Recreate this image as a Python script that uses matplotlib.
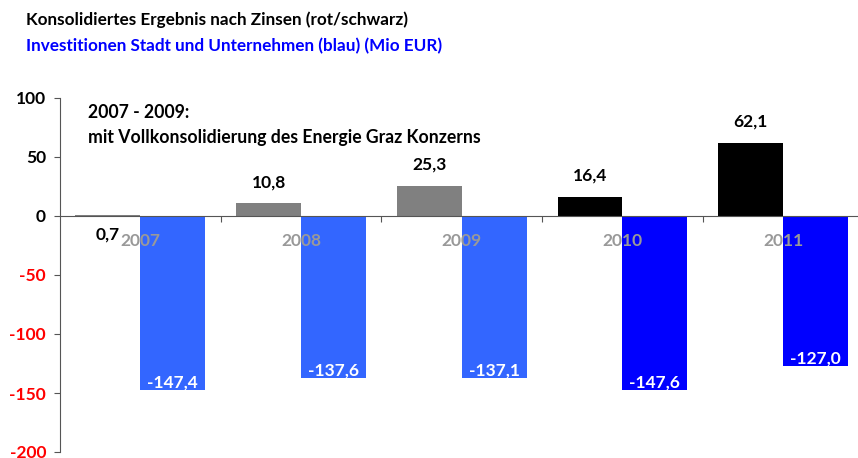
import numpy as np
import matplotlib.pyplot as plt

plt.rcParams['font.family'] = ['Lato', 'DejaVu Sans']
plt.rcParams['font.weight'] = 'bold'
plt.rcParams['axes.unicode_minus'] = False

years = ['2007', '2008', '2009', '2010', '2011']
ergebnis = [0.7, 10.8, 25.3, 16.4, 62.1]
invest = [-147.4, -137.6, -137.1, -147.6, -127.0]
erg_colors = ['#808080', '#808080', '#808080', '#000000', '#000000']
inv_colors = ['#3366ff', '#3366ff', '#3366ff', '#0000ff', '#0000ff']

fig = plt.figure(figsize=(8.58, 4.58), dpi=100)
ax = fig.add_axes([60 / 858, 1 - 452 / 458, 798 / 858, 354 / 458])

x = np.arange(len(years))
w = 0.404
ax.bar(x - w / 2, ergebnis, w, color=erg_colors, zorder=2)
ax.bar(x + w / 2, invest, w, color=inv_colors, zorder=2)

def fmt(v):
    return f'{v:.1f}'.replace('.', ',')

for i, v in enumerate(ergebnis):
    if v < 5:
        ax.text(x[i] - w / 2, -16, fmt(v), ha='center', va='center', fontsize=12.5)
    else:
        ax.text(x[i] - w / 2, v + 18, fmt(v), ha='center', va='center', fontsize=12.5)
for i, v in enumerate(invest):
    ax.text(x[i] + w / 2, v + 6.5, fmt(v), ha='center', va='center',
            fontsize=12.5, color='white')

# Jahreszahlen über die Balken legen
for i, y in enumerate(years):
    ax.text(x[i], -21, y, ha='center', va='center', fontsize=12.5,
            color='#999999', zorder=5)

ax.set_xlim(-0.5, -0.5 + 798 / 160.7)
ax.set_ylim(-200, 100)
ax.set_yticks([100, 50, 0, -50, -100, -150, -200])
ax.tick_params(axis='y', direction='out', length=4, color='#555555',
               labelsize=12.5, pad=6)
for lab in ax.get_yticklabels():
    lab.set_fontweight('bold')
    if float(lab.get_text()) < 0:
        lab.set_color('red')

ax.spines['bottom'].set_position(('data', 0))
ax.spines['bottom'].set_color('#555555')
ax.spines['bottom'].set_zorder(3)
ax.spines['left'].set_color('#555555')
ax.spines['top'].set_visible(False)
ax.spines['right'].set_visible(False)

ax.set_xticks(np.arange(0.5, 4.5, 1))
ax.set_xticklabels([])
ax.tick_params(axis='x', which='major', direction='out', length=4, color='#555555')

fig.text(26 / 858, 1 - 20 / 458, 'Konsolidiertes Ergebnis nach Zinsen (rot/schwarz)',
         fontsize=12.3, va='center', ha='left')
fig.text(26 / 858, 1 - 46 / 458, 'Investitionen Stadt und Unternehmen (blau) (Mio EUR)',
         fontsize=12.3, va='center', ha='left', color='#0000ff')
fig.text(88 / 858, 1 - 112 / 458, '2007 - 2009:', fontsize=12.7, va='center', ha='left')
fig.text(88 / 858, 1 - 138 / 458, 'mit Vollkonsolidierung des Energie Graz Konzerns',
         fontsize=12.7, va='center', ha='left')

fig.savefig('out.png', dpi=100)
